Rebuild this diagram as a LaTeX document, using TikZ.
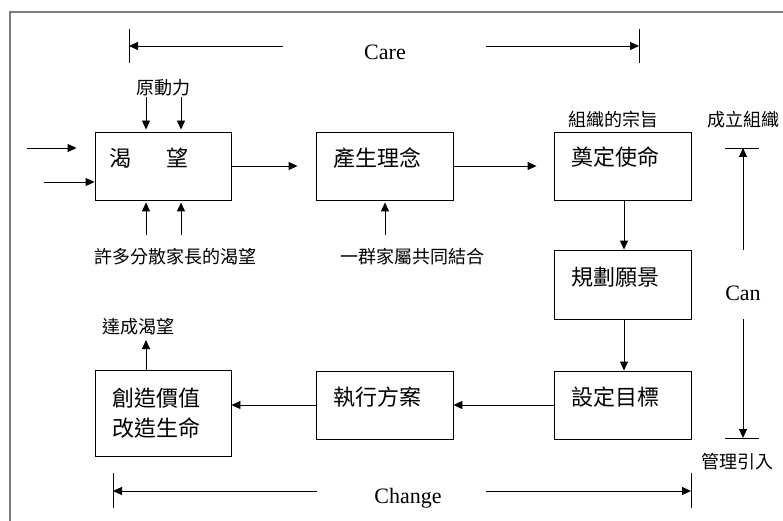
\documentclass[tikz,border=0pt]{standalone}
\usepackage{fontspec}
\setmainfont{Liberation Serif}
\newfontfamily\cjk{Noto Sans CJK TC}
\usetikzlibrary{arrows.meta}
\begin{document}
\begin{tikzpicture}[x=1pt,y=-1pt,
  box/.style={draw, line width=0.9pt, minimum width=136pt, minimum height=68pt, inner sep=0pt},
  arr/.style={-{Triangle[length=9pt,width=8pt]}, line width=0.9pt},
  ln/.style={line width=0.9pt},
  bt/.style={font=\cjk\fontsize{22}{26}\selectfont, inner sep=0pt},
  lt/.style={font=\cjk\fontsize{18}{22}\selectfont, inner sep=0pt},
  et/.style={font=\fontsize{22}{26}\selectfont, inner sep=0pt}]
\useasboundingbox (0,0) rectangle (783,521);
\begin{scope}
\clip (0,0) rectangle (783,521);
\draw[line width=1.2pt, draw={rgb,255:red,125;green,125;blue,125}] (10,12) rectangle (800,540);
\end{scope}

% boxes
\node[box] (b1) at (163,166) {};
\node[box, minimum width=137pt] (b2) at (384.5,166) {};
\node[box, minimum width=137pt] (b3) at (622.5,166) {};
\node[box, minimum width=137pt, minimum height=69pt] (b4) at (622.5,284.5) {};
\node[box, minimum width=137pt] (b5) at (622.5,405) {};
\node[box, minimum width=137pt] (b6) at (384.5,405) {};
\node[box, minimum height=86pt] (b7) at (163,413) {};

% box texts
\node[bt] (t1) at (149,158) {渴\hspace{36pt}望};
\node[bt] (t2) at (377.5,158) {產生理念};
\node[bt] (t3) at (615,157) {奠定使命};
\node[bt] (t4) at (615,277) {規劃願景};
\node[bt] (t5) at (615,397) {設定目標};
\node[bt] (t6) at (377.5,397) {執行方案};
\node[bt, align=left] (t7) at (156,413.5) {創造價值\\[4pt]改造生命};

% labels
\node[lt] (l1) at (163,88) {原動力};
\node[lt] (l2) at (613,120) {組織的宗旨};
\node[lt, anchor=west] (l3) at (707,120) {成立組織};
\node[lt] (l4) at (175,257) {許多分散家長的渴望};
\node[lt] (l5) at (412,257) {一群家屬共同結合};
\node[lt] (l6) at (138,327) {達成渴望};
\node[lt] (l7) at (737,462) {管理引入};
\node[et] (care) at (385,52) {Care};
\node[et] (can) at (743,293) {Can};
\node[et] (change) at (408,498) {Change};

% flow arrows
\draw[arr, shorten >=18pt] (b1.east) -- (b2.west);
\draw[arr, shorten >=17pt] (b2.east) -- (b3.west);
\draw[arr] (b3.south -| 624,0) -- (b4.north -| 624,0);
\draw[arr] (b4.south -| 624,0) -- (b5.north -| 624,0);
\draw[arr] (b5.west) -- (b6.east);
\draw[arr] (b6.west) -- (b7.east |- b6.west);

% inputs to b1
\coordinate (in1) at (27,148);
\coordinate (in2) at (44,182);
\draw[arr, shorten >=18pt] (in1) -- (in1 -| b1.west);
\draw[arr] (in2) -- (in2 -| b1.west);
\coordinate (d1) at (146,97);
\coordinate (d2) at (181,97);
\draw[arr, shorten >=2pt] (d1) -- (d1 |- b1.north);
\draw[arr, shorten >=2pt] (d2) -- (d2 |- b1.north);
\coordinate (u1) at (146,235);
\coordinate (u2) at (181,235);
\draw[arr, shorten >=2pt] (u1) -- (u1 |- b1.south);
\draw[arr, shorten >=2pt] (u2) -- (u2 |- b1.south);
\coordinate (u3) at (385,235);
\draw[arr, shorten >=2pt] (u3) -- (u3 |- b2.south);
\coordinate (o1) at (146,340);
\draw[arr] (o1 |- b7.north) -- (o1);

% Care
\coordinate (caL) at (129,46);
\coordinate (caR) at (639,46);
\coordinate (caL2) at (283,46);
\coordinate (caR2) at (486,46);
\draw[ln] (129,29) -- (129,63);
\draw[ln] (639,29) -- (639,63);
\draw[arr] (caL2) -- (caL);
\draw[arr] (caR2) -- (caR);

% Change
\coordinate (chL) at (113,491);
\coordinate (chR) at (691,491);
\coordinate (chL2) at (317,491);
\coordinate (chR2) at (486,491);
\draw[ln] (113,473) -- (113,508);
\draw[ln] (691,473) -- (691,508);
\draw[arr] (chL2) -- (chL);
\draw[arr] (chR2) -- (chR);

% Can
\coordinate (cnT) at (743,148);
\coordinate (cnB) at (743,438);
\coordinate (cnT2) at (743,250);
\coordinate (cnB2) at (743,319);
\draw[ln] (725,148) -- (759,148);
\draw[ln] (725,438) -- (759,438);
\draw[arr] (cnT2) -- (cnT);
\draw[arr] (cnB2) -- (cnB);
\end{tikzpicture}
\end{document}
